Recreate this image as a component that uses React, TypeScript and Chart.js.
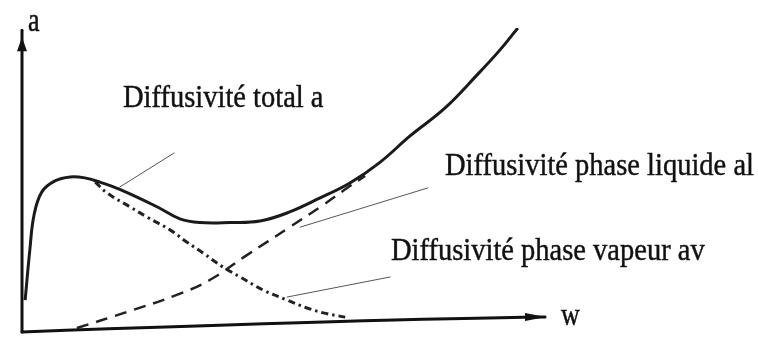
import React, { useEffect, useRef } from "react";
import { Chart, registerables } from "chart.js";

Chart.register(...registerables);

// Series values (w = water content, a = diffusivity), arbitrary schematic units
const wTotal = [0.6, 1.5, 2.3, 3.8, 6.3, 9.2, 12.0, 14.9, 18.7, 25.8, 30.2, 34.0, 39.8, 45.5, 51.2, 57.0, 62.7, 68.5, 74.2, 80.9, 87.2, 91.4, 94.8];
const aTotal = [10.5, 27.0, 38.5, 46.1, 49.7, 51.0, 50.7, 49.3, 46.9, 41.2, 37.2, 36.0, 36.0, 36.5, 39.5, 44.1, 49.0, 55.9, 64.5, 73.7, 84.9, 92.8, 100];

const wLiquid = [10.5, 20.1, 29.6, 35.9, 43.0, 51.2, 57.6, 62.7, 65.6];
const aLiquid = [1.3, 6.6, 12.2, 17.1, 25.3, 34.5, 41.8, 48.0, 51.3];

const wVapor = [14.0, 16.3, 20.7, 23.9, 28.3, 31.5, 34.6, 38.4, 41.7, 46.1, 50.7, 54.5, 57.6, 61.8];
const aVapor = [49.3, 45.7, 41.1, 37.8, 33.6, 29.6, 26.0, 21.4, 18.1, 13.8, 10.5, 7.9, 6.3, 4.9];

// Hand-drawn axes (slightly slanted w axis)
const wAxisW = [0, 68.5, 100];
const wAxisA = [0, 3.9, 4.9];
const aAxisW = [0, 0];
const aAxisA = [0, 99.3];

// Leader lines: [label end, curve end]
const leaderTotal = [[29.1, 58.9], [18.7, 47.7]];
const leaderLiquid = [[77.6, 47.4], [53.2, 34.5]];
const leaderVapor = [[70.4, 18.1], [50.7, 11.5]];

const labelTotal = "Diffusivité total a";
const labelLiquid = "Diffusivité phase liquide al";
const labelVapor = "Diffusivité phase vapeur av";
const axisLabelY = "a";
const axisLabelX = "w";

const zip = (xs: number[], ys: number[]) => xs.map((x, i) => ({ x, y: ys[i] }));

export default function App() {
  const ref = useRef<HTMLCanvasElement | null>(null);

  useEffect(() => {
    document.body.style.margin = "0";
    const canvas = ref.current;
    if (!canvas) return;

    const decor = {
      id: "decor",
      afterDatasetsDraw(chart: any) {
        const { ctx, scales } = chart;
        const px = (w: number) => scales.x.getPixelForValue(w);
        const py = (a: number) => scales.y.getPixelForValue(a);
        ctx.save();
        // axes
        ctx.strokeStyle = "#111";
        ctx.lineWidth = 3;
        ctx.lineCap = "round";
        ctx.beginPath();
        ctx.moveTo(px(aAxisW[0]), py(aAxisA[0]));
        ctx.lineTo(px(aAxisW[1]), py(aAxisA[1]));
        ctx.stroke();
        ctx.beginPath();
        ctx.moveTo(px(wAxisW[0]), py(wAxisA[0]));
        ctx.quadraticCurveTo(px(wAxisW[1]), py(wAxisA[1]) - 1, px(wAxisW[2]), py(wAxisA[2]));
        ctx.stroke();
        // arrow heads
        ctx.fillStyle = "#111";
        const yx = px(aAxisW[1]);
        const yt = py(aAxisA[1]) + 7;
        ctx.beginPath();
        ctx.moveTo(yx, yt);
        ctx.lineTo(yx - 5, yt + 14);
        ctx.lineTo(yx + 5, yt + 14);
        ctx.closePath();
        ctx.fill();
        const xx = px(wAxisW[2]);
        const xy = py(wAxisA[2]);
        ctx.beginPath();
        ctx.moveTo(xx + 1, xy);
        ctx.lineTo(xx - 20, xy - 4);
        ctx.lineTo(xx - 20, xy + 4);
        ctx.closePath();
        ctx.fill();
        // leader lines
        ctx.strokeStyle = "#555";
        ctx.lineWidth = 1;
        for (const l of [leaderTotal, leaderLiquid, leaderVapor]) {
          ctx.beginPath();
          ctx.moveTo(px(l[0][0]), py(l[0][1]));
          ctx.lineTo(px(l[1][0]), py(l[1][1]));
          ctx.stroke();
        }
        // texts
        ctx.fillStyle = "#111";
        ctx.strokeStyle = "#111";
        ctx.lineWidth = 0.4;
        ctx.textBaseline = "alphabetic";
        ctx.textAlign = "left";
        const txt = (s: string, x: number, y: number, size: number, sy: number) => {
          ctx.save();
          ctx.font = `${size}px 'Liberation Serif', 'Times New Roman', serif`;
          ctx.translate(x, y);
          ctx.scale(1, sy);
          ctx.fillText(s, 0, 0);
          ctx.strokeText(s, 0, 0);
          ctx.restore();
        };
        txt(labelTotal, 123, 107, 28.5, 1.12);
        txt(labelLiquid, 445, 175, 28.5, 1.12);
        txt(labelVapor, 391, 260, 28.5, 1.12);
        txt(axisLabelY, 28, 31, 26, 1.3);
        txt(axisLabelX, 561, 325, 26, 1.2);
        ctx.restore();
      },
    };

    const chart = new Chart(canvas, {
      type: "scatter",
      data: {
        datasets: [
          {
            label: "Diffusivité total a",
            data: zip(wTotal, aTotal),
            showLine: true,
            borderColor: "#1a1a1a",
            borderWidth: 3,
            pointRadius: 0,
            tension: 0.4,
          },
          {
            label: "Diffusivité phase liquide al",
            data: zip(wLiquid, aLiquid),
            showLine: true,
            borderColor: "#222",
            borderWidth: 2.5,
            borderDash: [12, 8],
            pointRadius: 0,
            tension: 0.4,
          },
          {
            label: "Diffusivité phase vapeur av",
            data: zip(wVapor, aVapor),
            showLine: true,
            borderColor: "#222",
            borderWidth: 3,
            borderDash: [7, 4, 2.5, 4],
            pointRadius: 0,
            tension: 0.4,
          },
        ],
      },
      options: {
        animation: false,
        responsive: false,
        layout: { padding: { left: 22, right: 213, top: 28, bottom: 6 } },
        plugins: { legend: { display: false }, tooltip: { enabled: false } },
        scales: {
          x: { type: "linear", min: 0, max: 100, display: false },
          y: { type: "linear", min: 0, max: 100, display: false },
        },
      },
      plugins: [decor],
    });
    return () => chart.destroy();
  }, []);

  return (
    <div style={{ width: 758, height: 338, background: "#fff" }}>
      <canvas ref={ref} width={758} height={338} style={{ display: "block" }} />
    </div>
  );
}
